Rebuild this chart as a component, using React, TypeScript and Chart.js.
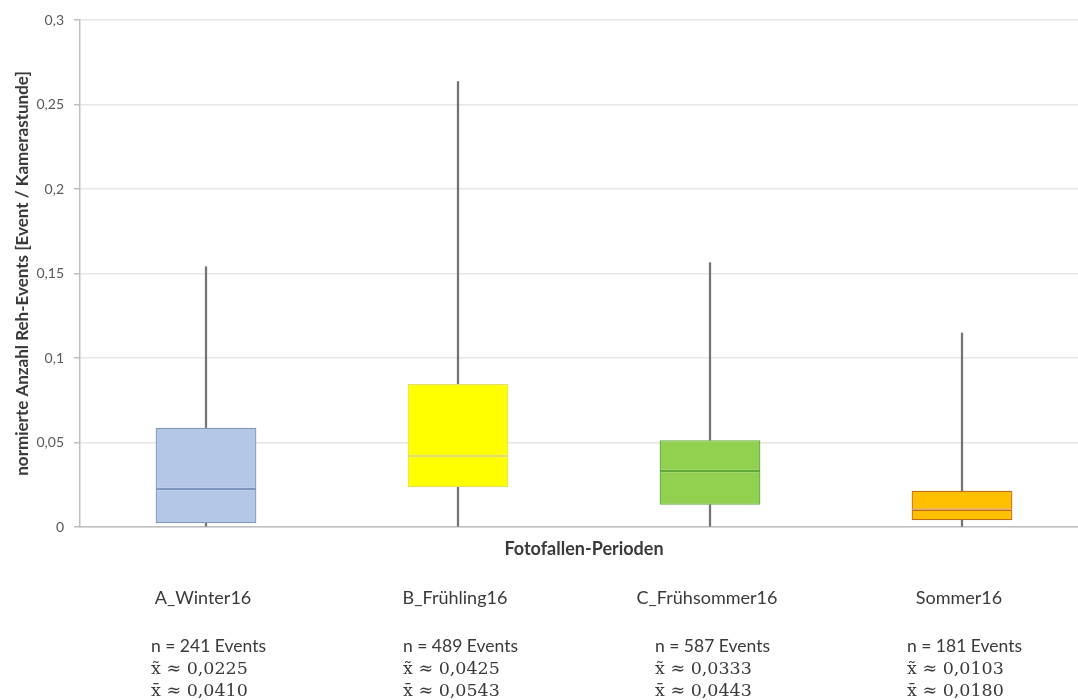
import React, { useEffect, useRef } from "react";
import { Chart, registerables } from "chart.js";

Chart.register(...registerables);

const categories = ["A_Winter16", "B_Frühling16", "C_Frühsommer16", "Sommer16"];
const whiskerMin = [0, 0, 0, 0];
const q1 = [0.0022, 0.0235, 0.0132, 0.004];
const median = [0.0225, 0.042, 0.0331, 0.0102];
const q3 = [0.0588, 0.0846, 0.0513, 0.0215];
const whiskerMax = [0.154, 0.2635, 0.1564, 0.1148];
const nEvents = ["241", "489", "587", "181"];
const medianLabels = ["0,0225", "0,0425", "0,0333", "0,0103"];
const meanLabels = ["0,0410", "0,0543", "0,0443", "0,0180"];

const fillColors = ["#b4c7e7", "#ffff00", "#92d050", "#ffc000"];
const borderColors = ["#7f97bd", "#e2de60", "#5faa35", "#c46a17"];

const yTitle = "normierte Anzahl Reh-Events [Event / Kamerastunde]";
const xTitle = "Fotofallen-Perioden";

const bottomTextPlugin = {
  id: "bottomText",
  afterDraw(chart: any) {
    const ctx = chart.ctx;
    const xs = chart.scales.x;
    const area = chart.chartArea;
    ctx.save();
    ctx.fillStyle = "#3a3a3a";
    ctx.textBaseline = "middle";
    ctx.textAlign = "center";
    ctx.font = "bold 18px Lato";
    ctx.fillText(xTitle, (area.left + area.right) / 2, 549);
    categories.forEach((c, i) => {
      const cx = xs.getPixelForValue(i);
      ctx.textAlign = "center";
      ctx.font = "18px Lato";
      ctx.fillText(c, cx - 3, 598);
      ctx.textAlign = "left";
      ctx.font = "17.5px Lato";
      ctx.fillText("n = " + nEvents[i] + " Events", cx - 55, 646);
      ctx.font = "17.5px 'DejaVu Serif'";
      ctx.fillText("x\u0303 \u2248 " + medianLabels[i], cx - 55, 669);
      ctx.fillText("x\u0304 \u2248 " + meanLabels[i], cx - 55, 691);
    });
    ctx.restore();
  },
};

const boxCommon = {
  backgroundColor: fillColors,
  borderColor: borderColors,
  borderWidth: 1.3,
  borderSkipped: false,
  barPercentage: 0.4,
  categoryPercentage: 1,
  grouped: false,
  order: 1,
};

const whiskerCommon = {
  backgroundColor: "#747474",
  borderWidth: 0,
  barThickness: 1.6,
  grouped: false,
  order: 3,
};

export default function App() {
  const ref = useRef<HTMLCanvasElement | null>(null);
  useEffect(() => {
    if (!ref.current) return;
    const chart = new Chart(ref.current, {
      type: "bar",
      data: {
        labels: categories,
        datasets: [
          {
            label: "whiskerLow",
            data: categories.map((_, i) => [whiskerMin[i], q1[i]]) as any,
            ...whiskerCommon,
          } as any,
          {
            label: "whiskerHigh",
            data: categories.map((_, i) => [q3[i], whiskerMax[i]]) as any,
            ...whiskerCommon,
          } as any,
          {
            label: "lower",
            data: categories.map((_, i) => [q1[i], median[i]]) as any,
            ...boxCommon,
          } as any,
          {
            label: "upper",
            data: categories.map((_, i) => [median[i], q3[i]]) as any,
            ...boxCommon,
          } as any,
        ],
      },
      options: {
        animation: false,
        responsive: false,
        maintainAspectRatio: false,
        layout: { padding: { top: 20, left: 0, right: 0, bottom: 0 } },
        plugins: {
          legend: { display: false },
          tooltip: { enabled: false },
        },
        scales: {
          x: {
            type: "category",
            grid: { display: false },
            ticks: { display: false },
            border: { display: true, color: "#bfbfbf", width: 1.5 },
            afterFit: (s: any) => {
              s.height = 173;
            },
          },
          y: {
            min: 0,
            max: 0.3,
            ticks: {
              stepSize: 0.05,
              color: "#595959",
              font: { family: "Lato", size: 14 },
              padding: 10,
              callback: (v: any) => String(Math.round(Number(v) * 100) / 100).replace(".", ","),
            },
            grid: {
              color: "#e6e6e6",
              lineWidth: 1.5,
              tickLength: 6,
              tickColor: "#bfbfbf",
            },
            border: { display: true, color: "#bfbfbf", width: 1.5 },
            title: {
              display: true,
              text: yTitle,
              color: "#3a3a3a",
              font: { family: "Lato", size: 17, weight: "bold" },
              padding: { top: 12, bottom: 0 },
            },
            afterFit: (s: any) => {
              s.width = 80;
            },
          },
        },
      } as any,
      plugins: [bottomTextPlugin],
    });
    return () => chart.destroy();
  }, []);
  return (
    <div
      style={{
        position: "fixed",
        left: 0,
        top: 0,
        width: 1078,
        height: 700,
        overflow: "hidden",
        background: "#ffffff",
      }}
    >
      <canvas ref={ref} width={1088} height={700} style={{ width: 1088, height: 700 }} />
    </div>
  );
}
